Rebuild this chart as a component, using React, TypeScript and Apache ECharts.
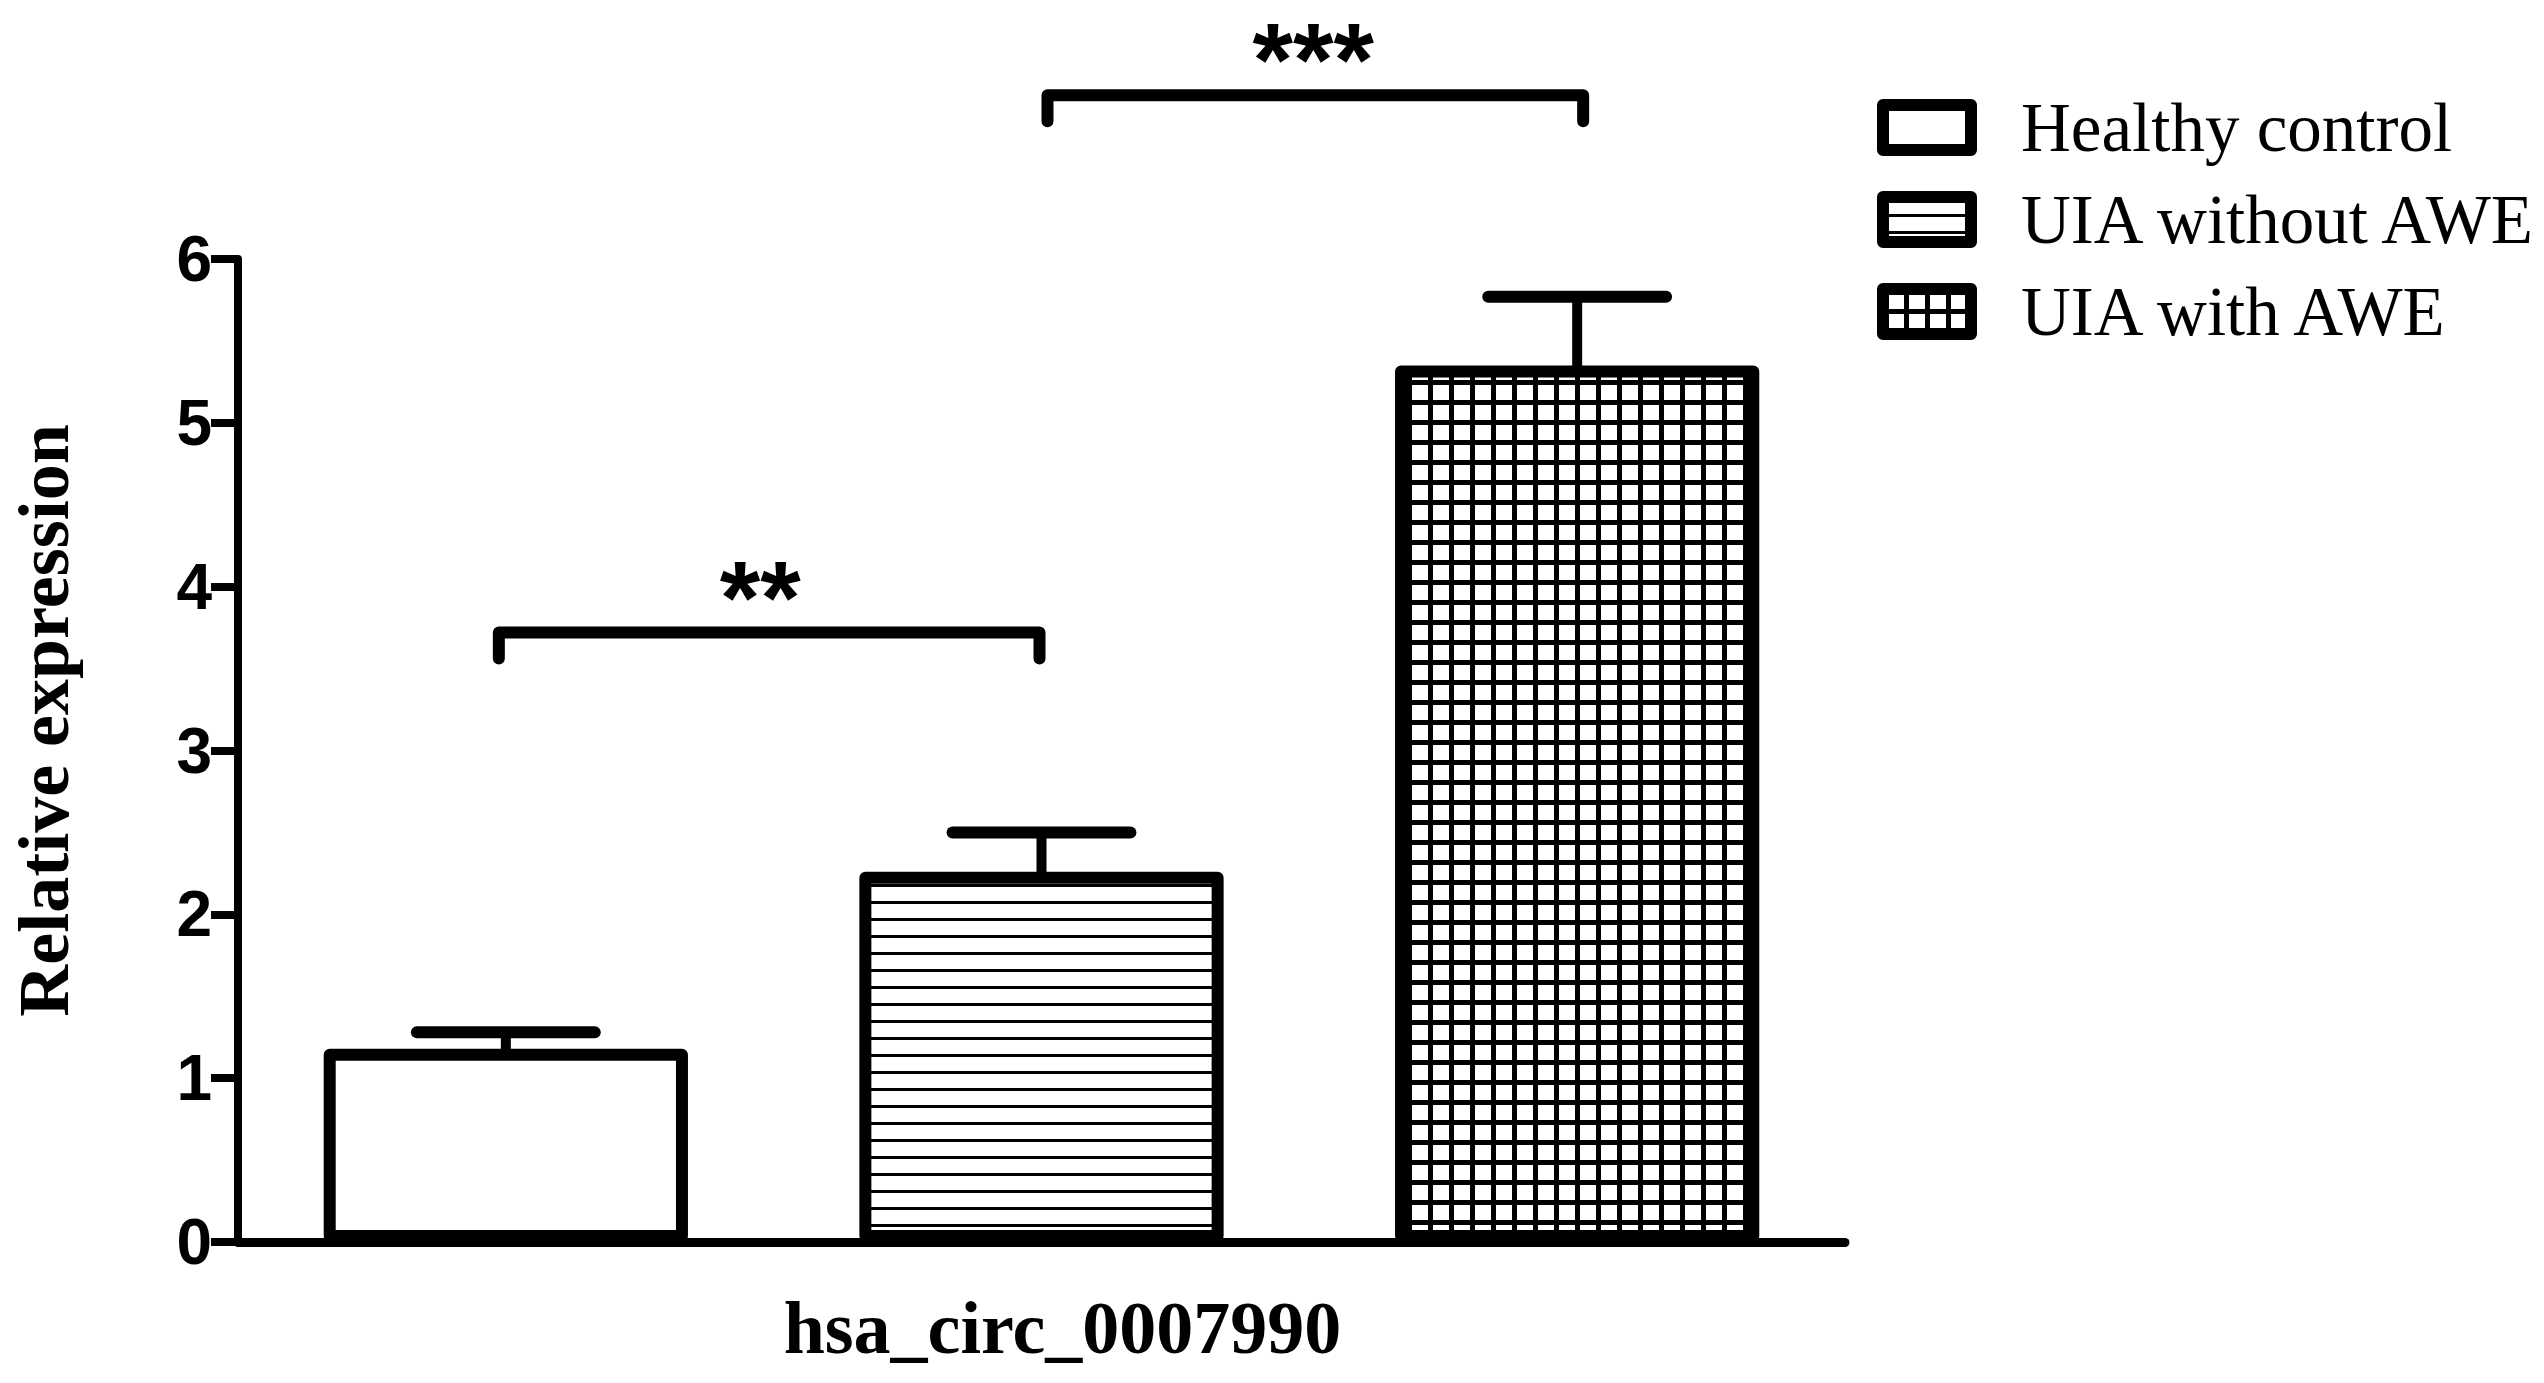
import React, { useEffect, useRef } from 'react';
import * as echarts from 'echarts';

// ---- data ----
const groups = ['Healthy control', 'UIA without AWE', 'UIA with AWE'];
const means = [1.18, 2.26, 5.35];
const errUpper = [1.28, 2.5, 5.77];
const sigPairs = [
  [0, 1],
  [1, 2],
];
const sigHeights = [3.72, 7.0];
const sigLabels = ['**', '***'];
const xAxisTitle = 'hsa_circ_0007990';
const yAxisTitle = 'Relative expression';
const yMin = 0;
const yMax = 6;
const yStep = 1;

// style: small pixel nudges of bracket legs (left, right) and of the star labels
const BRACKET_NUDGE = [
  [-7, -2],
  [6, 6],
];
const STAR_NUDGE = [-9, -2];

function makeStripes(): HTMLCanvasElement {
  const c = document.createElement('canvas');
  c.width = 4;
  c.height = 17;
  const ctx = c.getContext('2d')!;
  ctx.fillStyle = '#fff';
  ctx.fillRect(0, 0, 4, 17);
  ctx.fillStyle = '#000';
  ctx.fillRect(0, 0, 4, 3);
  return c;
}

function makeGrid(): HTMLCanvasElement {
  const c = document.createElement('canvas');
  c.width = 21;
  c.height = 20;
  const ctx = c.getContext('2d')!;
  ctx.fillStyle = '#fff';
  ctx.fillRect(0, 0, 21, 20);
  ctx.fillStyle = '#000';
  ctx.fillRect(0, 0, 5, 20);
  ctx.fillRect(0, 0, 21, 5);
  return c;
}

export default function App() {
  const ref = useRef<HTMLDivElement>(null);

  useEffect(() => {
    document.body.style.margin = '0';
    if (!ref.current) return;
    const chart = echarts.init(ref.current, undefined, { renderer: 'svg' });

    const stripes = makeStripes();
    const grid = makeGrid();
    const fills: any[] = [
      '#ffffff',
      { image: stripes, repeat: 'repeat', imageWidth: 4, imageHeight: 17 },
      { image: grid, repeat: 'repeat', imageWidth: 21, imageHeight: 20 },
    ];

    const barSeries = groups.map((g, i) => ({
      type: 'bar',
      name: g,
      data: groups.map((_, j) => (j === i ? means[i] : '-')),
      barGap: '-100%',
      barWidth: '68%',
      itemStyle: {
        color: fills[i],
        borderColor: '#000',
        borderWidth: 12,
        borderJoin: 'round',
      },
      z: 2,
    }));

    const errorSeries = {
      type: 'custom',
      name: 'SEM',
      data: means.map((m, i) => [i, m, errUpper[i]]),
      encode: { x: 0, y: [1, 2] },
      z: 3,
      renderItem: (params: any, api: any) => {
        const i = api.value(0);
        const base = api.coord([i, api.value(1)]);
        const top = api.coord([i, api.value(2)]);
        const half = api.size([1, 0])[0] * 0.166;
        return {
          type: 'group',
          children: [
            {
              type: 'line',
              shape: { x1: base[0], y1: base[1] + 6, x2: top[0], y2: top[1] },
              style: { stroke: '#000', lineWidth: 10 },
            },
            {
              type: 'line',
              shape: { x1: top[0] - half, y1: top[1], x2: top[0] + half, y2: top[1] },
              style: { stroke: '#000', lineWidth: 12, lineCap: 'round' },
            },
          ],
        };
      },
    };

    const bracketSeries = {
      type: 'custom',
      name: 'significance',
      data: sigPairs.map((p, k) => [p[0], p[1], sigHeights[k]]),
      encode: { x: [0, 1], y: 2 },
      clip: false,
      z: 3,
      renderItem: (params: any, api: any) => {
        const k = params.dataIndex;
        const a = api.coord([api.value(0), api.value(2)]);
        const b = api.coord([api.value(1), api.value(2)]);
        const ax = a[0] + BRACKET_NUDGE[k][0];
        const bx = b[0] + BRACKET_NUDGE[k][1];
        const leg = 26;
        return {
          type: 'group',
          children: [
            {
              type: 'polyline',
              shape: {
                points: [
                  [ax, a[1] + leg],
                  [ax, a[1]],
                  [bx, b[1]],
                  [bx, b[1] + leg],
                ],
              },
              style: { stroke: '#000', fill: 'none', lineWidth: 12, lineCap: 'round', lineJoin: 'round' },
            },
            {
              type: 'text',
              style: {
                text: sigLabels[k],
                x: (ax + bx) / 2 + STAR_NUDGE[k],
                y: a[1] - 35,
                align: 'center',
                verticalAlign: 'middle',
                fontFamily: 'Liberation Sans',
                fontWeight: 'bold',
                fontSize: 104,
                fill: '#000',
              },
            },
          ],
        };
      },
    };

    chart.setOption({
      animation: false,
      backgroundColor: '#ffffff',
      grid: { left: 232, right: 699, top: 259, bottom: 141, containLabel: false },
      legend: {
        orient: 'vertical',
        left: 1877,
        top: 93,
        padding: 0,
        itemWidth: 88,
        itemHeight: 45,
        itemGap: 23,
        icon: 'rect',
        selectedMode: false,
        data: groups,
        itemStyle: { borderColor: '#000', borderWidth: 12, borderJoin: 'round' },
        textStyle: {
          fontFamily: 'Liberation Serif',
          fontSize: 69,
          color: '#000',
          padding: [0, 0, 0, 45],
        },
      },
      xAxis: {
        type: 'category',
        data: groups,
        name: xAxisTitle,
        nameLocation: 'middle',
        nameGap: 49,
        nameTextStyle: {
          fontFamily: 'Liberation Serif',
          fontWeight: 'bold',
          fontSize: 74,
          color: '#000',
          padding: [0, 0, 0, 42],
          verticalAlign: 'top',
        },
        axisLine: { show: true, lineStyle: { color: '#000', width: 9 } },
        axisTick: { show: false },
        axisLabel: { show: false },
        splitLine: { show: false },
      },
      yAxis: {
        type: 'value',
        min: yMin,
        max: yMax,
        interval: yStep,
        name: yAxisTitle,
        nameLocation: 'middle',
        nameRotate: 90,
        nameGap: 158,
        nameTextStyle: {
          fontFamily: 'Liberation Serif',
          fontWeight: 'bold',
          fontSize: 72,
          color: '#000',
          padding: [0, 0, 0, 60],
        },
        axisLine: { show: true, lineStyle: { color: '#000', width: 8 } },
        axisTick: { show: true, length: 27, lineStyle: { color: '#000', width: 8 } },
        axisLabel: {
          margin: 26,
          fontFamily: 'Liberation Sans',
          fontWeight: 'bold',
          fontSize: 64,
          color: '#000',
        },
        splitLine: { show: false },
      },
      series: [...barSeries, errorSeries, bracketSeries],
    });

    return () => {
      chart.dispose();
    };
  }, []);

  return (
    <div
      ref={ref}
      style={{ position: 'absolute', left: 0, top: 0, width: 2544, height: 1383, background: '#fff' }}
    />
  );
}
